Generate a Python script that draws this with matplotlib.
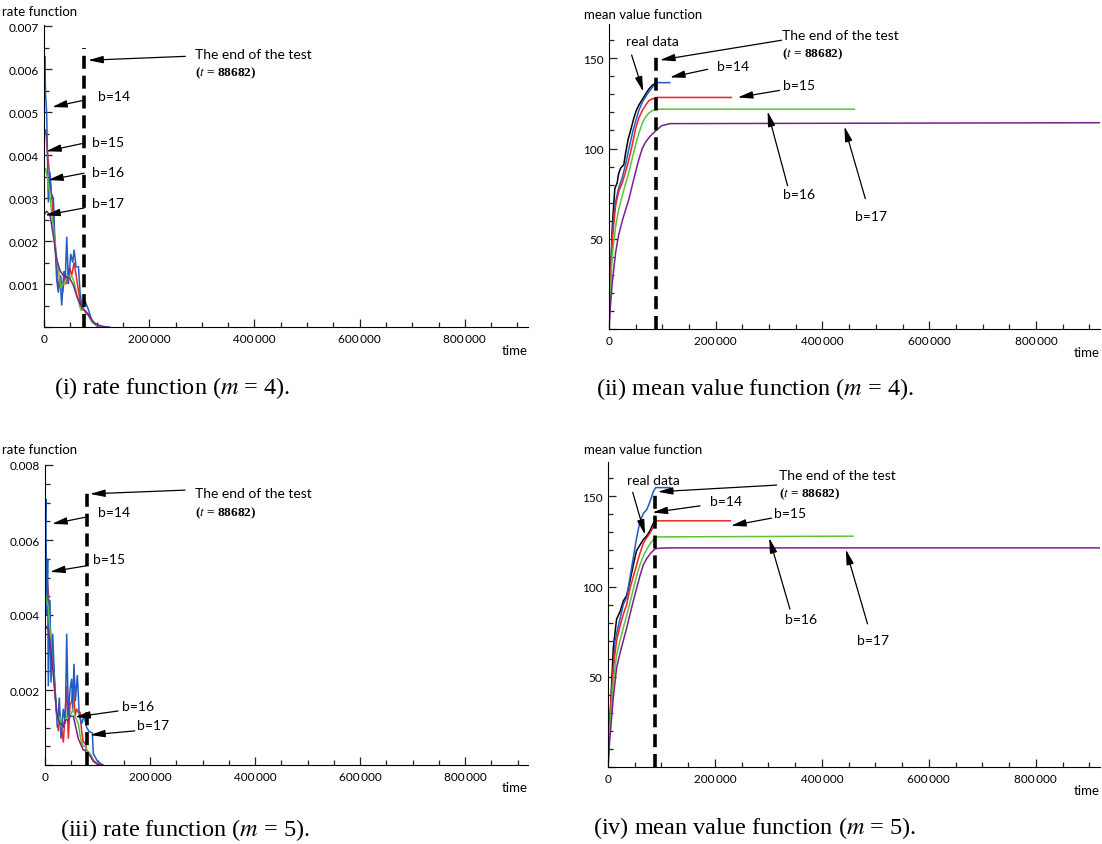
import numpy as np
import matplotlib
matplotlib.use('Agg')
import matplotlib.pyplot as plt
from matplotlib.ticker import MultipleLocator, FuncFormatter

plt.rcParams['font.family'] = ['Lato', 'DejaVu Sans']
plt.rcParams['mathtext.fontset'] = 'stix'

# colours of the four models
C14 = '#1f5cc4'
C15 = '#f02222'
C16 = '#5ec13c'
C17 = '#7a1f8c'

T_END = 88682
# where the dashed "end of test" line is actually drawn in each panel
dash_x = [76000, 88682, 80000, 88682]
dash_top = [0.0065, 151, 0.0073, 152]

# ---- (i) rate function, m = 4
r4_t14 = [0, 1500, 3000, 5000, 8300, 11400, 14000, 17800, 20700, 24100, 27300, 30500, 33600, 37900,
          40500, 43200, 46400, 50800, 54600, 57200, 61000, 65500, 68600, 71700, 75000, 78100, 84500,
          90900, 96000, 101000, 110000, 125000]
r4_v14 = [0.0052, 0.0063, 0.0054, 0.0050, 0.0029, 0.0036, 0.0031, 0.0030, 0.0020, 0.0011, 0.0008,
          0.0012, 0.0005, 0.0013, 0.0011, 0.0021, 0.0010, 0.0017, 0.0015, 0.0018, 0.0014, 0.0014,
          0.0008, 0.0005, 0.0005, 0.0006, 0.0004, 0.00015, 0.00007, 0.00003, 0.0, 0.0]
r4_t15 = [0, 3200, 6300, 10800, 15900, 20700, 25400, 27900, 31700, 35500, 40000, 43200, 48300, 52700,
          57200, 62300, 67300, 71700, 76200, 80000, 84500, 90900, 101000, 115000]
r4_v15 = [0.0045, 0.0046, 0.0041, 0.0035, 0.0029, 0.0020, 0.0012, 0.0009, 0.0012, 0.0008, 0.0013,
          0.0010, 0.0014, 0.0012, 0.0015, 0.0011, 0.0007, 0.0004, 0.0004, 0.0003, 0.0003, 0.00012,
          0.00003, 0.0]
r4_t16 = [0, 3000, 6000, 10000, 15000, 20000, 25000, 28000, 32000, 36000, 40000, 44000, 48000, 52000,
          56000, 60000, 63000, 70000, 76000, 82000, 90000, 100000, 112000]
r4_v16 = [0.0036, 0.0037, 0.0035, 0.0032, 0.0026, 0.0021, 0.0015, 0.0013, 0.0009, 0.0010, 0.0010,
          0.0012, 0.0011, 0.0012, 0.0011, 0.0009, 0.0007, 0.0004, 0.0004, 0.0003, 0.00015, 0.00005, 0.0]
r4_t17 = [0, 5000, 11400, 17800, 24000, 30500, 36800, 43200, 49500, 55900, 62000, 68600, 75000, 81300,
          87600, 94000, 100000, 110000, 120000]
r4_v17 = [0.0026, 0.0027, 0.0026, 0.00212, 0.00158, 0.00131, 0.00120, 0.00116, 0.00112, 0.00097,
          0.00073, 0.00054, 0.00042, 0.00034, 0.00022, 0.00012, 0.00006, 0.00002, 0.0]

# ---- (iii) rate function, m = 5
r5_t14 = [0, 1500, 3000, 5000, 6300, 9500, 11400, 14600, 17800, 20900, 23500, 27300, 30500, 34900,
          38700, 41300, 44500, 47600, 50800, 52700, 55200, 57800, 61600, 65400, 69800, 74300, 79400,
          83800, 90200, 92000, 100000, 110000]
r5_v14 = [0.0060, 0.0071, 0.0040, 0.0055, 0.0021, 0.0044, 0.0022, 0.0035, 0.0024, 0.0016, 0.0010,
          0.0018, 0.0007, 0.0015, 0.0011, 0.0035, 0.0013, 0.0020, 0.0023, 0.0015, 0.0027, 0.0017,
          0.0024, 0.0013, 0.0011, 0.0013, 0.0010, 0.0009, 0.00085, 0.0003, 0.0001, 0.0]
r5_t15 = [0, 1900, 4000, 6300, 9500, 12700, 15900, 19000, 22200, 25400, 28600, 31700, 34900, 38000,
          41300, 44500, 47600, 50800, 54000, 57200, 60300, 63500, 66700, 69800, 73000, 76200, 79400,
          85700, 92000, 100000, 110000]
r5_v15 = [0.0063, 0.0055, 0.0050, 0.0046, 0.0038, 0.0030, 0.0027, 0.0020, 0.0014, 0.0009, 0.0014,
          0.0010, 0.0006, 0.0013, 0.0021, 0.0007, 0.0016, 0.0017, 0.0021, 0.0013, 0.0015, 0.0014,
          0.0014, 0.0009, 0.0006, 0.0006, 0.0004, 0.0003, 0.00012, 0.00003, 0.0]
r5_t16 = [0, 3000, 6300, 9500, 12700, 15900, 19000, 22200, 25400, 28600, 31700, 34900, 38000, 41300,
          44500, 47600, 50800, 54000, 57200, 60300, 63500, 66700, 69800, 73000, 76200, 79400, 85700,
          92000, 100000, 110000]
r5_v16 = [0.0046, 0.0044, 0.0042, 0.0036, 0.0030, 0.0025, 0.0019, 0.0014, 0.0011, 0.0013, 0.0010,
          0.0011, 0.0012, 0.0013, 0.0012, 0.0013, 0.0014, 0.0015, 0.0013, 0.0012, 0.0011, 0.0008,
          0.0006, 0.0005, 0.0005, 0.0004, 0.0003, 0.00013, 0.00003, 0.0]
r5_t17 = r5_t16
r5_v17 = [0.0036, 0.0037, 0.0036, 0.0033, 0.0029, 0.0024, 0.0019, 0.0014, 0.0012, 0.0011, 0.0011,
          0.0010, 0.0012, 0.0012, 0.0012, 0.0013, 0.0013, 0.0013, 0.0011, 0.0009, 0.0007, 0.0006,
          0.0005, 0.0004, 0.0004, 0.0003, 0.00025, 0.0001, 0.00002, 0.0]

# ---- (ii) mean value function, m = 4
m4_treal = [0, 1900, 6200, 10900, 15300, 18000, 21500, 24500, 27700, 30800, 35800, 40200, 46400,
            51000, 55800, 62000, 68200, 74800, 81000, 88682]
m4_vreal = [5, 20, 57, 77.8, 81, 86, 89, 90, 91, 97, 105, 109.7, 116.7, 121, 124, 127, 130, 133, 135, 136.5]
m4_t14 = [0, 2000, 4700, 8000, 12000, 18000, 24900, 31000, 37400, 45000, 55800, 63000, 71400, 80000,
          88682, 95000, 114000]
m4_v14 = [0, 20, 42.6, 60, 70, 78, 84, 91, 100, 110, 121, 126, 130, 133.5, 136.5, 136.5, 136.5]
m4_t15 = [0, 2000, 6200, 12500, 18000, 24900, 31000, 37400, 43500, 49800, 56000, 62300, 68500, 74700,
          81000, 88682, 100000, 229000]
m4_v15 = [0, 22, 50, 68.5, 76, 81, 87, 94, 102, 111, 117, 121, 124, 126.5, 127.5, 128.3, 128.3, 128.3]
m4_t16 = [0, 2000, 6200, 12500, 18000, 24900, 31000, 37400, 43500, 49800, 56000, 62300, 68500, 74700,
          81000, 88682, 100000, 460000]
m4_v16 = [0, 18, 41, 57, 66, 74, 80.5, 87, 94.5, 102, 108.5, 114, 117.5, 119.6, 121, 121.8, 121.8, 121.8]
m4_t17 = [0, 2000, 6200, 12500, 18000, 24900, 31000, 37400, 43500, 49800, 56000, 62300, 68500, 74700,
          81000, 87200, 98400, 114000, 920000]
m4_v17 = [0, 10, 26, 42.6, 52, 60, 66, 72, 79.5, 87, 94, 100, 103.5, 106, 108, 109.7, 112.6, 113.8, 114.3]

# ---- (iv) mean value function, m = 5
m5_treal = [0, 3700, 9900, 16100, 22400, 28600, 34900, 41100, 47300, 53500, 59800, 66000, 72300,
            78500, 84700, 88682]
m5_vreal = [5, 26, 66, 82, 86, 92, 95, 103, 112, 120, 123, 126, 128, 131, 135, 137]
m5_t14 = [0, 2500, 6900, 13100, 22400, 28600, 34900, 41100, 47300, 53500, 59800, 66000, 72300, 78500,
          84700, 89100, 116000]
m5_v14 = [0, 18, 37, 70, 82, 90, 94, 105, 116, 127, 136, 140.5, 142.5, 147, 152.6, 154.8, 154.8]
m5_t15 = [0, 3000, 9900, 16100, 22400, 28600, 34900, 41100, 47300, 53500, 59800, 66000, 72300, 78500,
          84700, 89100, 229000]
m5_v15 = [0, 25, 55.5, 70, 78, 84.6, 90, 99, 105.5, 112, 118.5, 124, 127, 129.5, 133, 136.4, 136.4]
m5_t16 = m5_t15[:-1] + [458000]
m5_v16 = [0, 20, 47.6, 62, 70, 77, 84, 91, 98.5, 106, 112, 117, 120.5, 123.6, 126, 127.5, 127.9]
m5_t17 = [0, 3000, 9900, 16100, 22400, 28600, 34900, 41100, 47300, 53500, 59800, 66000, 72300, 78500,
          84700, 89100, 100000, 115000, 920000]
m5_v17 = [0, 14, 38.5, 55, 63, 70, 77, 84.6, 92, 99, 106, 112, 115.5, 118, 120, 121, 121.3, 121.4, 121.4]

W, H = 1102, 845
fig = plt.figure(figsize=(W / 100, H / 100), dpi=100)


def box(l, t, r, b):
    return [l / W, 1 - b / H, (r - l) / W, (b - t) / H]


def xfmt(x, pos):
    if x == 0:
        return '0'
    return '{:,}'.format(int(x)).replace(',', '\u2009')


def style(ax, ymax, ymajor, yminor, yfmt):
    for s in ['top', 'right']:
        ax.spines[s].set_visible(False)
    ax.set_xlim(0, 920000)
    ax.set_ylim(0, ymax)
    ax.xaxis.set_major_locator(MultipleLocator(200000))
    ax.xaxis.set_minor_locator(MultipleLocator(50000))
    ax.yaxis.set_major_locator(MultipleLocator(ymajor))
    ax.yaxis.set_minor_locator(MultipleLocator(yminor))
    ax.xaxis.set_major_formatter(FuncFormatter(xfmt))
    ax.yaxis.set_major_formatter(FuncFormatter(lambda v, p: '' if v == 0 else yfmt.format(v)))
    ax.tick_params(which='both', direction='in', labelsize=8.5, width=0.9, color='#222222')
    ax.tick_params(which='major', length=6, pad=4)
    ax.tick_params(which='minor', length=3.5)
    ax.text(1.0, -0.075, 'time', transform=ax.transAxes, ha='right', va='center', fontsize=9.5)


ARROW = dict(arrowstyle='-|>,head_length=0.9,head_width=0.22', color='black', lw=0.9,
             shrinkA=0, shrinkB=0, mutation_scale=10)


def arrow(ax, tail, tip):
    ax.annotate('', xy=tip, xytext=tail, arrowprops=ARROW)


def label(ax, xy, s):
    ax.text(xy[0], xy[1], s, ha='left', va='center', fontsize=10)


def end_note(ax, xy, dy):
    ax.text(xy[0], xy[1], 'The end of the test', ha='left', va='center', fontsize=10)
    ax.text(xy[0], xy[1] - dy, r'($\mathit{t}$ = 88682)', ha='left', va='center', fontsize=9.5,
            family='Liberation Serif', weight='bold')


axes = [fig.add_axes(box(44, 26, 528, 328)), fig.add_axes(box(609, 25, 1100, 330)),
        fig.add_axes(box(45, 466, 528, 766)), fig.add_axes(box(608, 463, 1100, 768))]

rate_sets = [
    [(r4_t15, r4_v15, C15), (r4_t14, r4_v14, C14), (r4_t16, r4_v16, C16), (r4_t17, r4_v17, C17)],
    [(r5_t15, r5_v15, C15), (r5_t14, r5_v14, C14), (r5_t16, r5_v16, C16), (r5_t17, r5_v17, C17)],
]
mean_sets = [
    [(m4_treal, m4_vreal, 'black'), (m4_t14, m4_v14, C14), (m4_t15, m4_v15, C15),
     (m4_t16, m4_v16, C16), (m4_t17, m4_v17, C17)],
    [(m5_treal, m5_vreal, 'black'), (m5_t14, m5_v14, C14), (m5_t15, m5_v15, C15),
     (m5_t16, m5_v16, C16), (m5_t17, m5_v17, C17)],
]

for i, ax in enumerate(axes):
    if i % 2 == 0:
        series = rate_sets[i // 2]
    else:
        series = mean_sets[i // 2]
    for t, v, c in series:
        ax.plot(t, v, color=c, lw=1.1, solid_joinstyle='miter')
    ax.plot([dash_x[i], dash_x[i]], [0, dash_top[i]], color='black', lw=2.6, dashes=(3.6, 1.9),
            clip_on=False, zorder=5)

# (i)
ax = axes[0]
style(ax, 0.00703, 0.001, 0.0005, '{:.3f}')
end_note(ax, (287600, 0.00635), 0.00042)
arrow(ax, (268600, 0.00630), (83800, 0.00621))
for txt, ty, tail, tip in [('b=14', 0.00537, (76200, 0.00528), (15200, 0.00512)),
                           ('b=15', 0.00430, (76200, 0.00428), (3800, 0.00409)),
                           ('b=16', 0.00360, (76200, 0.00358), (7600, 0.00342)),
                           ('b=17', 0.00288, (76200, 0.00277), (1900, 0.00260))]:
    label(ax, (92000 if txt != 'b=14' else 103000, ty), txt)
    arrow(ax, tail, tip)

# (ii)
ax = axes[1]
style(ax, 169, 50, 10, '{:.0f}')
end_note(ax, (323300, 162.8), 10)
arrow(ax, (323300, 160), (95300, 149))
label(ax, (31800, 159.4), 'real data')
arrow(ax, (42400, 151.8), (64200, 131.5))
for txt, pos, tail, tip in [('b=14', (201900, 146), (185000, 143.9), (114000, 139.4)),
                            ('b=15', (325200, 135), (319600, 132.2), (241100, 128.3)),
                            ('b=16', (325200, 75), (334600, 79.4), (297200, 120.6)),
                            ('b=17', (461600, 62.8), (480300, 72.2), (441100, 112.2))]:
    label(ax, pos, txt)
    arrow(ax, tail, tip)

# (iii)
ax = axes[2]
style(ax, 0.0080, 0.002, 0.0005, '{:.3f}')
end_note(ax, (285700, 0.00725), 0.0005)
arrow(ax, (266700, 0.00733), (85700, 0.00723))
for txt, pos, tail, tip in [('b=14', (101000, 0.00675), (78100, 0.00661), (13300, 0.00643)),
                            ('b=15', (91400, 0.00549), (78100, 0.00531), (9500, 0.00515)),
                            ('b=16', (146700, 0.00157), (139000, 0.00144), (57200, 0.00128)),
                            ('b=17', (175000, 0.00107), (171000, 0.00091), (85700, 0.00080))]:
    label(ax, pos, txt)
    arrow(ax, tail, tip)

# (iv)
ax = axes[3]
style(ax, 169, 50, 10, '{:.0f}')
end_note(ax, (319600, 162), 10.3)
arrow(ax, (315300, 156.2), (93000, 152.5))
label(ax, (36000, 159), 'real data')
arrow(ax, (46200, 152.2), (69200, 128.7))
for txt, pos, tail, tip in [('b=14', (190600, 147.4), (172000, 144.7), (83000, 141)),
                            ('b=15', (310300, 141), (305900, 137.9), (229900, 133.7)),
                            ('b=16', (330800, 82), (340200, 87.5), (301500, 126.9)),
                            ('b=17', (466000, 70.5), (485300, 79.3), (444800, 120.5))]:
    label(ax, pos, txt)
    arrow(ax, tail, tip)

# axis titles
for x, y, s in [(2, 12, 'rate function'), (584, 15, 'mean value function'),
                (2, 450, 'rate function'), (584, 450, 'mean value function')]:
    fig.text(x / W, 1 - y / H, s, ha='left', va='center', fontsize=9.5)

# captions
for x, y, s in [(172, 388, '(i) rate function ($m$ = 4).'),
                (755, 389, '(ii) mean value function ($m$ = 4).'),
                (185, 830, '(iii) rate function ($m$ = 5).'),
                (755, 828, '(iv) mean value function ($m$ = 5).')]:
    fig.text(x / W, 1 - y / H, s, ha='center', va='center', fontsize=17.5,
             family='Liberation Serif')

fig.savefig('out.png', dpi=100)
